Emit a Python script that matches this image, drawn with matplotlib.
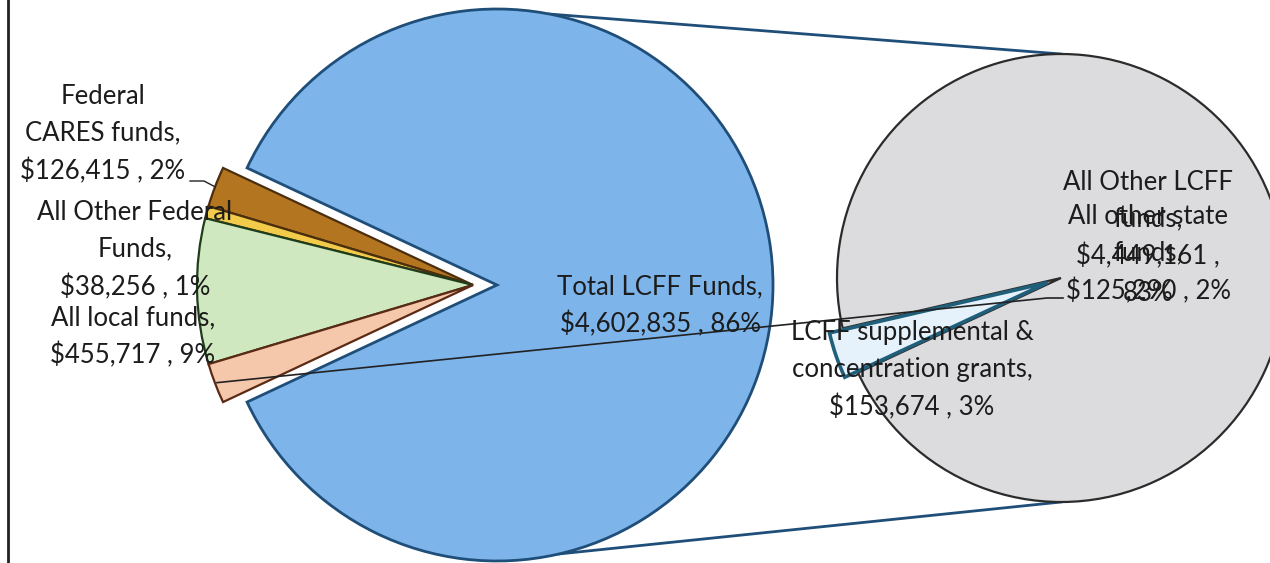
import matplotlib.pyplot as plt
import numpy as np

# main pie
main_labels = ["Total LCFF Funds", "Federal CARES funds", "All Other Federal Funds",
               "All local funds", "All other state funds"]
main_values = [4602835, 126415, 38256, 455717, 125290]
main_colors = ['#7db4ea', '#b3751f', '#f2cb4a', '#cfe8bf', '#f5c8ab']
main_edges = ['#1f4e79', '#4a2e0e', '#4a2e0e', '#1f3d1a', '#5c2a14']

# second pie (split of LCFF)
sub_labels = ["All Other LCFF funds", "LCFF supplemental & concentration grants"]
sub_values = [4449161, 153674]
sub_colors = ['#dcdcde', '#e6f2fb']
sub_edges = ['#2b2b2b', '#1f5f7a']

total = sum(main_values)
H = 563
text_kw = dict(fontsize=18.5, color='#1c1c1c', ha='center', va='center',
               family=['Lato', 'DejaVu Sans'], linespacing=1.58, zorder=10)


def Y(y):
    return H - y


def fmt(v):
    return "${:,} , {:.0f}%".format(v, 100 * v / total)


fig = plt.figure(figsize=(12.7, 5.63), dpi=100)
ax = fig.add_axes([0, 0, 1, 1])

# --- main pie ---
cx, cy, r = 497, Y(285), 276
small_angle = 360 * (1 - main_values[0] / total)
start = 180 + small_angle / 2
wedges, _ = ax.pie(main_values, colors=main_colors, startangle=start,
                   center=(cx, cy), radius=r, frame=False,
                   wedgeprops=dict(linewidth=2))
for w, ec in zip(wedges, main_edges):
    w.set_edgecolor(ec)
shift = 24
for w in wedges[1:]:
    w.set_center((cx - shift, cy))
    w.set_linewidth(1.6)

# --- second pie ---
sx, sy, sr = 1061, Y(278), 224
sub_small = 360 * sub_values[1] / sum(sub_values)
sub_start = 199 + sub_small / 2
swedges, _ = ax.pie(sub_values, colors=sub_colors, startangle=sub_start,
                    center=(sx, sy), radius=sr, frame=False,
                    explode=[0, 14], wedgeprops=dict(linewidth=1.6))
for w, ec in zip(swedges, sub_edges):
    w.set_edgecolor(ec)
swedges[1].set_linewidth(2.6)

# connector lines between the pies
for a_main, a_sub in [(79, 90), (-77, -90)]:
    p1 = (cx + r * np.cos(np.radians(a_main)), cy + r * np.sin(np.radians(a_main)))
    p2 = (sx + sr * np.cos(np.radians(a_sub)), sy + sr * np.sin(np.radians(a_sub)))
    ax.plot([p1[0], p2[0]], [p1[1], p2[1]], color='#1f4e79', lw=2, zorder=0)


def outer_mid(w, rr):
    a = np.radians((w.theta1 + w.theta2) / 2)
    c = w.center
    return c[0] + rr * np.cos(a), c[1] + rr * np.sin(a)


# leader lines
px, py = outer_mid(wedges[1], r)
ax.plot([190, 204, px], [Y(181), Y(181), py], color='#222222', lw=1, zorder=9)
px, py = outer_mid(wedges[4], r - 2)
ax.plot([px, 1047, 1063], [py, Y(298), Y(298)], color='#222222', lw=1.2, zorder=9)

# labels
ax.text(103, Y(134), "Federal\nCARES funds,\n" + fmt(main_values[1]), **text_kw)
ax.text(135, Y(250), "All Other Federal\nFunds,\n" + fmt(main_values[2]), **text_kw)
ax.text(133, Y(337), "All local funds,\n" + fmt(main_values[3]), **text_kw)
ax.text(660, Y(306), "Total LCFF Funds,\n" + fmt(main_values[0]), **text_kw)
ax.text(912, Y(370), "LCFF supplemental &\nconcentration grants,\n" + fmt(sub_values[1]), **text_kw)
ax.text(1148, Y(238), "All Other LCFF\nfunds,\n${:,} ,\n{:.0f}%".format(
    sub_values[0], 100 * sub_values[0] / total), **text_kw)
ax.text(1148, Y(254), "All other state\nfunds,\n" + fmt(main_values[4]), **text_kw)

# left border
ax.plot([8, 8], [0, H], color='#222222', lw=2)

ax.set_xlim(0, 1270)
ax.set_ylim(0, H)
ax.axis('off')
fig.savefig("out.png", dpi=100)
